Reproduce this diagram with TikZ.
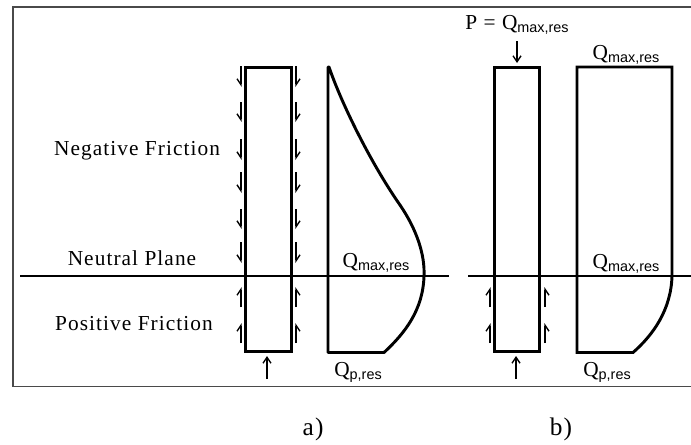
\documentclass[tikz,border=0pt]{standalone}
\usepackage{fontspec}
\setmainfont{Liberation Serif}[LetterSpace=5]
\newfontfamily\subfont{Liberation Sans}
\usepackage{xcolor}
\usetikzlibrary{arrows.meta}
\definecolor{framegray}{HTML}{4A4A4A}
\newcommand{\Qres}[1]{Q\raisebox{-0.3ex}{\subfont\fontsize{10.8}{12}\selectfont #1}}

\begin{document}
\begin{tikzpicture}[x=0.75pt,y=-0.75pt,
      pile/.style={draw,line width=2.3pt,minimum width=34pt,minimum height=213.5pt,inner sep=0pt,outer sep=0pt},
      loadcurve/.style={line width=2.2pt,line join=bevel},
      plane/.style={line width=0.9pt},
      barbL/.style={line width=1pt,-{Straight Barb[harpoon,swap,length=4.5pt,width=6pt]}},
      barbR/.style={line width=1pt,-{Straight Barb[harpoon,length=4.5pt,width=6pt]}},
      axial/.style={line width=1pt,-{Straight Barb[length=4.5pt,width=6pt]}},
      txt/.style={font=\fontsize{16}{18}\selectfont,inner sep=0pt}]

    \useasboundingbox (0,0) rectangle (691,444);

    % frame
    \coordinate (frameTR) at (691,7);
    \coordinate (frameTL) at (13,7);
    \coordinate (frameBL) at (13,386.5);
    \coordinate (frameBR) at (691,386.5);
    \draw[framegray,line width=1pt] (frameTR) -- (frameTL) -- (frameBL) -- (frameBR);

    % piles
    \node[pile] (pileA) at (268.5,209.5) {};
    \node[pile] (pileB) at (517,209.5) {};

    % neutral plane
    \coordinate (planeA1) at (20,276);
    \coordinate (planeA2) at (449,276);
    \coordinate (planeB1) at (468,276);
    \coordinate (planeB2) at (691,276);
    \draw[plane] (planeA1) -- (planeA2);
    \draw[plane] (planeB1) -- (planeB2);

    % load diagrams
    \draw[loadcurve] (328,352.5) -- (328,67) -- (329,67) .. controls (342,105) and (372,165) .. (400,205)
      .. controls (417,230) and (425,255) .. (424,276)
      .. controls (423,310) and (405,333) .. (384,352.5) -- cycle;
    \draw[loadcurve,line join=miter] (577,67) -- (672,67) -- (672,276)
      .. controls (671,310) and (653,335) .. (633,352.5) -- (577,352.5) -- cycle;

    % friction arrows
    \foreach \ya/\yb in {66/87,102/122,139/160,172/193,209/229,242/263} {
      \coordinate (fricL) at (241,\ya);
      \coordinate (fricLe) at (241,\yb);
      \coordinate (fricR) at (296,\ya);
      \coordinate (fricRe) at (296,\yb);
      \draw[barbL] (fricL) -- (fricLe);
      \draw[barbR] (fricR) -- (fricRe);
    }
    \foreach \xl/\xr in {241/296,490/545}
      \foreach \ya/\yb in {307/287,343/323} {
        \coordinate (upL) at (\xl,\ya);
        \coordinate (upLe) at (\xl,\yb);
        \coordinate (upR) at (\xr,\ya);
        \coordinate (upRe) at (\xr,\yb);
        \draw[barbR] (upL) -- (upLe);
        \draw[barbL] (upR) -- (upRe);
      }

    % base and head arrows
    \coordinate (baseA) at (267,379);
    \coordinate (baseAe) at (267,356);
    \coordinate (baseB) at (516,379);
    \coordinate (baseBe) at (516,356);
    \coordinate (headB) at (517,41);
    \coordinate (headBe) at (517,63);
    \draw[axial] (baseA) -- (baseAe);
    \draw[axial] (baseB) -- (baseBe);
    \draw[axial] (headB) -- (headBe);

    % labels
    \node[txt] (negF) at (137,151) {Negative Friction};
    \node[txt] (neuP) at (132,258) {Neutral Plane};
    \node[txt] (posF) at (134,324) {Positive Friction};
    \node[txt] (qA1) at (376,263) {\Qres{max,res}};
    \node[txt] (qA2) at (358,372) {\Qres{p,res}};
    \node[txt] (pLab) at (517,25) {P = \Qres{max,res}};
    \node[txt] (qB0) at (626,55) {\Qres{max,res}};
    \node[txt] (qB1) at (626,264) {\Qres{max,res}};
    \node[txt] (qB2) at (607,372) {\Qres{p,res}};
    \node[txt,font=\fontsize{19}{21}\selectfont] (capA) at (313,429) {a)};
    \node[txt,font=\fontsize{19}{21}\selectfont] (capB) at (561,429) {b)};
  \end{tikzpicture}
\end{document}
